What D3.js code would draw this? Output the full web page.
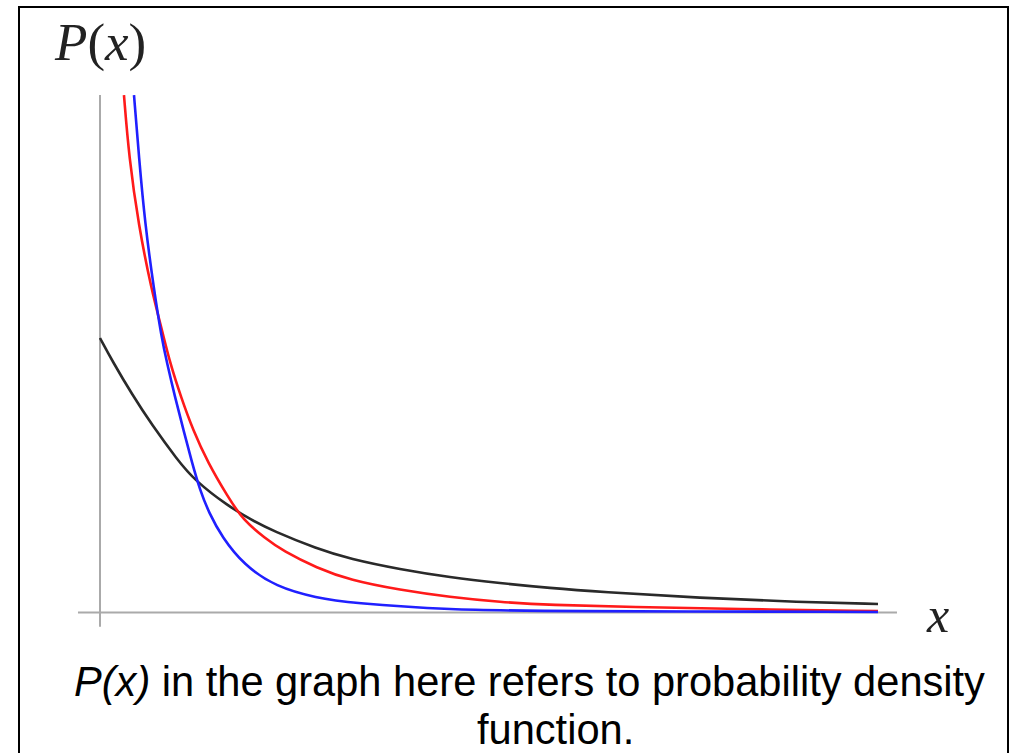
<!DOCTYPE html>
<html>
<head>
<meta charset="utf-8">
<script src="https://cdn.jsdelivr.net/npm/d3@7"></script>
<style>
	body { margin: 0; background: #fff; }
	svg { display: block; }
</style>
</head>
<body>
<svg width="1015" height="753"></svg>
<script>
// values (x in arbitrary units, P(x) scaled so black starts at 1)
var blackX = [0, 0.167, 0.411, 0.668, 0.99, 1.221, 1.645, 1.954, 2.224, 2.789, 3.213, 3.856, 4.499, 5.141, 5.784, 6.427, 7.712, 8.997, 10];
var blackY = [1.0, 0.912, 0.795, 0.683, 0.558, 0.48, 0.388, 0.336, 0.297, 0.232, 0.195, 0.157, 0.128, 0.107, 0.089, 0.075, 0.053, 0.038, 0.031];

var redX = [0.308, 0.373, 0.495, 0.662, 0.797, 0.9, 1.041, 1.195, 1.388, 1.645, 1.838, 2.121, 2.352, 2.789, 3.213, 3.856, 4.499, 5.141, 5.784, 6.851, 8.136, 10];
var redY = [1.885, 1.659, 1.412, 1.175, 1.029, 0.909, 0.785, 0.665, 0.545, 0.421, 0.337, 0.271, 0.224, 0.162, 0.118, 0.082, 0.056, 0.038, 0.027, 0.02, 0.013, 0.005];

var blueX = [0.437, 0.501, 0.578, 0.694, 0.79, 0.861, 0.964, 1.073, 1.183, 1.285, 1.401, 1.568, 1.85, 2.262, 2.789, 3.213, 4.499, 5.784, 10];
var blueY = [1.885, 1.659, 1.418, 1.175, 1.004, 0.909, 0.785, 0.665, 0.545, 0.446, 0.363, 0.275, 0.173, 0.093, 0.053, 0.035, 0.009, 0.005, 0.002];

var xAxisExtent = [-0.283, 10.244];
var yAxisExtent = [-0.052, 1.885];

var captionLine1 = ['P(x)', ' in the graph here refers to probability density'];
var captionLine2 = 'function.';

var svg = d3.select('svg');

var x = d3.scaleLinear().domain([0, 10]).range([100, 878]);
var y = d3.scaleLinear().domain([0, 1]).range([612.5, 338]);

// outer frame
svg.append('rect')
	.attr('x', 19).attr('y', 7)
	.attr('width', 989).attr('height', 760)
	.style('fill', 'none')
	.style('stroke', '#000')
	.style('stroke-width', 2);

// axes
svg.append('line')
	.attr('x1', x(0)).attr('x2', x(0))
	.attr('y1', y(yAxisExtent[0])).attr('y2', y(yAxisExtent[1]))
	.style('stroke', '#aaa')
	.style('stroke-width', 2);
svg.append('line')
	.attr('x1', x(xAxisExtent[0])).attr('x2', x(xAxisExtent[1]))
	.attr('y1', y(0)).attr('y2', y(0))
	.style('stroke', '#aaa')
	.style('stroke-width', 2);

svg.append('clipPath').attr('id', 'plot')
	.append('rect')
	.attr('x', x(xAxisExtent[0])).attr('y', y(yAxisExtent[1]))
	.attr('width', x(xAxisExtent[1]) - x(xAxisExtent[0]))
	.attr('height', y(yAxisExtent[0]) - y(yAxisExtent[1]));

var line = d3.line()
	.x(function(d){ return x(d[0]); })
	.y(function(d){ return y(d[1]); })
	.curve(d3.curveBasis);

var series = [
	{xs: blackX, ys: blackY, color: '#2a2a2a'},
	{xs: redX, ys: redY, color: '#ff1a1a'},
	{xs: blueX, ys: blueY, color: '#2020ff'}
];

series.forEach(function(s){
	svg.append('path')
		.attr('d', line(d3.zip(s.xs, s.ys)))
		.attr('clip-path', 'url(#plot)')
		.style('fill', 'none')
		.style('stroke', s.color)
		.style('stroke-width', 2.6);
});

// axis labels, serif math style
var yLab = svg.append('text')
	.attr('x', 55).attr('y', 60)
	.style('font-family', '"Liberation Serif", "DejaVu Serif", serif')
	.style('font-size', '53px')
	.style('fill', '#222');
yLab.append('tspan').style('font-style', 'italic').text('P');
yLab.append('tspan').text('(');
yLab.append('tspan').style('font-style', 'italic').text('x');
yLab.append('tspan').text(')');

svg.append('text')
	.attr('x', 927).attr('y', 632)
	.style('font-family', '"Liberation Serif", "DejaVu Serif", serif')
	.style('font-size', '50px')
	.style('font-style', 'italic')
	.style('fill', '#222')
	.text('x');

// caption
var cap = svg.append('text')
	.attr('x', 74).attr('y', 696)
	.style('font-family', '"Liberation Sans", Arial, sans-serif')
	.style('font-size', '41.6px')
	.style('fill', '#000');
cap.append('tspan').style('font-style', 'italic').text(captionLine1[0]);
cap.append('tspan').text(captionLine1[1]);

svg.append('text')
	.attr('x', 477).attr('y', 744)
	.style('font-family', '"Liberation Sans", Arial, sans-serif')
	.style('font-size', '41.6px')
	.style('fill', '#000')
	.text(captionLine2);
</script>
</body>
</html>
